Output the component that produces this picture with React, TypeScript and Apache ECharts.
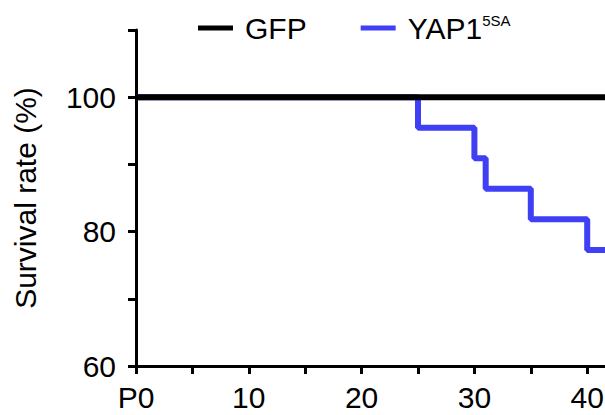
import React, { useEffect, useRef } from "react";
import * as echarts from "echarts";

const seriesNames = ["GFP", "YAP1"];
const gfpDays = [0, 50];
const gfpSurvival = [100, 100];
const yapDays = [0, 25, 30, 31, 35, 40, 50];
const yapSurvival = [100, 95.45, 90.91, 86.36, 81.82, 77.27, 77.27];
const yLabelValues = [60, 80, 100];
const xLabelValues = [0, 10, 20, 30, 40];

const FONT = "'Liberation Sans', Arial, sans-serif";

export default function App() {
  const ref = useRef<HTMLDivElement>(null);
  useEffect(() => {
    if (!ref.current) return;
    const chart = echarts.init(ref.current, undefined, { renderer: "svg" });
    chart.setOption({
      animation: false,
      backgroundColor: "#fff",
      textStyle: { fontFamily: FONT },
      legend: {
        data: seriesNames,
        left: 193,
        top: 8,
        itemWidth: 35,
        itemHeight: 5,
        itemGap: 54,
        icon: "rect",
        textStyle: {
          fontFamily: FONT,
          fontSize: 30,
          color: "#000",
          padding: [0, 0, 0, 7],
          rich: {
            sup: { fontSize: 15, fontFamily: FONT, color: "#000", padding: [0, 0, 15, 0] },
          },
        },
        formatter: (name: string) => (name === "YAP1" ? "YAP1{sup|5SA}" : name),
      },
      grid: { left: 136, right: 20, top: 30, bottom: 49 },
      xAxis: {
        type: "value",
        min: 0,
        max: 50,
        interval: 5,
        axisLine: { show: true, lineStyle: { color: "#000", width: 3 } },
        axisTick: { show: true, length: 8, lineStyle: { color: "#000", width: 3 } },
        splitLine: { show: false },
        axisLabel: {
          margin: 16,
          fontSize: 30,
          fontFamily: FONT,
          color: "#000",
          formatter: (v: number) =>
            xLabelValues.includes(v) ? (v === 0 ? "P0" : String(v)) : "",
        },
      },
      yAxis: {
        type: "value",
        min: 60,
        max: 110,
        interval: 10,
        name: "Survival rate (%)",
        nameLocation: "middle",
        nameGap: 96,
        nameTextStyle: { fontSize: 30, fontFamily: FONT, color: "#000" },
        axisLine: { show: true, lineStyle: { color: "#000", width: 3 } },
        axisTick: { show: true, length: 8, lineStyle: { color: "#000", width: 3 } },
        splitLine: { show: false },
        axisLabel: {
          margin: 20,
          fontSize: 30,
          fontFamily: FONT,
          color: "#000",
          formatter: (v: number) => (yLabelValues.includes(v) ? String(v) : ""),
        },
      },
      series: [
        {
          name: "GFP",
          type: "line",
          data: gfpDays.map((d, i) => [d, gfpSurvival[i]]),
          showSymbol: false,
          symbol: "none",
          lineStyle: { color: "#000", width: 6 },
          itemStyle: { color: "#000" },
          z: 4,
        },
        {
          name: "YAP1",
          type: "line",
          step: "end",
          data: yapDays.map((d, i) => [d, yapSurvival[i]]),
          showSymbol: false,
          symbol: "none",
          lineStyle: { color: "#3f3ff5", width: 6 },
          itemStyle: { color: "#3f3ff5" },
          z: 3,
        },
      ],
    });
    return () => chart.dispose();
  }, []);
  return (
    <div style={{ position: "fixed", left: 0, top: 0, width: 605, height: 415, overflow: "hidden", background: "#fff" }}>
      <div ref={ref} style={{ width: 720, height: 415 }} />
    </div>
  );
}
